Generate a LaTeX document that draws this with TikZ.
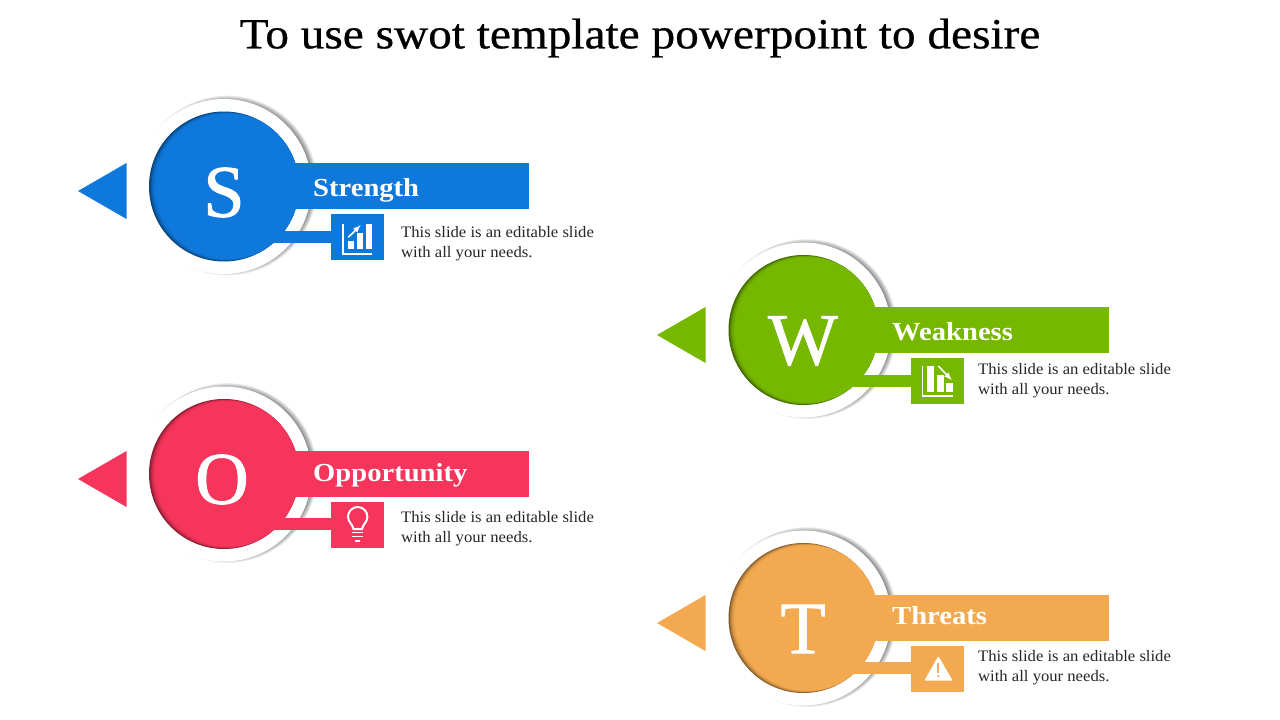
\documentclass[tikz,border=0pt]{standalone}
\usepackage{fontspec}
\setmainfont{Liberation Serif}[FakeStretch=1.1]
\newfontfamily\titlefont{Liberation Serif}[FakeStretch=1.1,FakeBold=0.6]
\newfontfamily\letterfont{Liberation Serif}[FakeBold=1.2]
\newfontfamily\blurbfont{Liberation Serif}[FakeStretch=1.04]
\definecolor{swotblue}{HTML}{0F78DB}
\definecolor{swotgreen}{HTML}{76B700}
\definecolor{swotpink}{HTML}{F5355B}
\definecolor{swotorange}{HTML}{F2A950}
\definecolor{swottext}{HTML}{262626}
\tikzset{
  ring/.style={shape=circle,fill=white,minimum size=175pt,inner sep=0pt},
  disc/.style={shape=circle,fill=#1!55!black,minimum size=150pt,inner sep=0pt,
    path picture={
      \foreach \off/\rad/\op in {.8/74.5/.35,1.6/74/.45,2.4/73.5/.55,3.2/73/.7,4/72.5/1}
        \fill[#1,opacity=\op] ([xshift=\off pt]path picture bounding box.center) circle (\rad pt);
    }},
  bar/.style={shape=rectangle,fill=#1,anchor=north west,minimum height=45.5pt,inner sep=0pt},
  iconbox/.style={shape=rectangle,fill=#1,anchor=north west,minimum width=53pt,minimum height=45.5pt,inner sep=0pt},
  link/.style={draw=#1,line width=12pt},
  letter/.style={text=white,font=\fontsize{74pt}{74pt}\letterfont,inner sep=0pt},
  label/.style={text=white,anchor=base west,inner sep=0pt,font=\fontsize{26pt}{26pt}\selectfont\bfseries},
  blurb/.style={text=swottext,anchor=north west,align=left,inner sep=0pt,font=\fontsize{16pt}{20pt}\blurbfont},
  glyph/.style={draw=white,line width=1.6pt},
}
\newcommand{\ringshade}[2]{\foreach \k in {0,...,9}{\fill[black,opacity=.055] (#1+3.5,#2-1) circle (84.5pt+\k*.6pt);}}
\newcommand{\pointer}[3]{\fill[#3] (#1,#2) -- (#1+48.5,#2-28) -- (#1+48.5,#2+28) -- cycle;}
\begin{document}
\begin{tikzpicture}[x=1pt,y=-1pt]
\useasboundingbox (0,0) rectangle (1280,720);
\fill[white] (0,0) rectangle (1280,720);
\node[text=black,font=\fontsize{43pt}{43pt}\titlefont] (title) at (640,38) {To use swot template powerpoint to desire};
% S
\pointer{78}{191}{swotblue}
\ringshade{224}{186.5}
\node[ring] (sring) at (224,186.5) {};
\node[disc=swotblue] (sdisc) at (224,186.5) {};
\node[bar=swotblue,minimum width=239pt] (sbar) at (290,163) {};
\node[iconbox=swotblue] (sbox) at (331,214) {};
\coordinate (slink) at (265,237);
\draw[link=swotblue] (slink) -- (sbox.west |- slink);
\node[letter] (sletter) at (224,192.5) {S};
\node[label] (slabel) at (313,196) {Strength};
\node[blurb] (sblurb) at (401,226) {This slide is an editable slide\\with all your needs.};
\begin{scope}[shift={(331,214)}]
\draw[glyph] (11.7,10) -- (11.7,40) -- (40.7,40);
\fill[white] (16.7,26.7) rectangle (23.3,35.3);
\fill[white] (25.7,18.7) rectangle (32.3,35.3);
\fill[white] (34.7,10) rectangle (40.7,35.3);
\draw[glyph,->,>=latex] (17.3,23.3) -- (29.7,11);
\end{scope}
% W
\pointer{657}{335}{swotgreen}
\ringshade{803.5}{330}
\node[ring] (wring) at (803.5,330) {};
\node[disc=swotgreen] (wdisc) at (803.5,330) {};
\node[bar=swotgreen,minimum width=240pt] (wbar) at (869,307) {};
\node[iconbox=swotgreen] (wbox) at (911,358) {};
\coordinate (wlink) at (844,381);
\draw[link=swotgreen] (wlink) -- (wbox.west |- wlink);
\node[letter] (wletter) at (803,341) {W};
\node[label] (wlabel) at (892,340) {Weakness};
\node[blurb] (wblurb) at (978,363) {This slide is an editable slide\\with all your needs.};
\begin{scope}[shift={(911,358)}]
\draw[glyph] (11.3,8) -- (11.3,38) -- (41.7,38);
\fill[white] (15.7,8) rectangle (23,33.7);
\fill[white] (25.7,17) rectangle (33,33.7);
\fill[white] (35,25.3) rectangle (41.7,33.7);
\draw[glyph,->,>=latex] (27.3,8) -- (40.7,22);
\end{scope}
% O
\pointer{78}{479}{swotpink}
\ringshade{224}{474}
\node[ring] (oring) at (224,474) {};
\node[disc=swotpink] (odisc) at (224,474) {};
\node[bar=swotpink,minimum width=239pt] (obar) at (290,451) {};
\node[iconbox=swotpink] (obox) at (331,502) {};
\coordinate (olink) at (265,524);
\draw[link=swotpink] (olink) -- (obox.west |- olink);
\node[letter] (oletter) at (222,479.5) {O};
\node[label] (olabel) at (313,481) {Opportunity};
\node[blurb] (oblurb) at (401,511) {This slide is an editable slide\\with all your needs.};
\begin{scope}[shift={(331,502)}]
\draw[glyph,line width=2pt] (22.5,27) .. controls (21.5,22) and (17,20) .. (17,14.7) arc (180:360:9.7) .. controls (36.4,20) and (32,22) .. (31,27) -- cycle;
\draw[glyph] (21,30.3) -- (32,30.3);
\draw[glyph] (21,34.3) -- (32,34.3);
\draw[glyph] (24,38.7) -- (29,38.7);
\end{scope}
% T
\pointer{657}{623}{swotorange}
\ringshade{803.5}{618}
\node[ring] (tring) at (803.5,618) {};
\node[disc=swotorange] (tdisc) at (803.5,618) {};
\node[bar=swotorange,minimum width=240pt] (tbar) at (869,595) {};
\node[iconbox=swotorange] (tbox) at (911,646) {};
\coordinate (tlink) at (844,668);
\draw[link=swotorange] (tlink) -- (tbox.west |- tlink);
\node[letter] (tletter) at (803,629) {T};
\node[label] (tlabel) at (892,624) {Threats};
\node[blurb] (tblurb) at (978,650) {This slide is an editable slide\\with all your needs.};
\begin{scope}[shift={(911,646)}]
\fill[white,rounded corners=1pt] (27.3,10) -- (41.7,34.7) -- (13.3,34.7) -- cycle;
\draw[swotorange,line width=1.8pt] (27.3,17.3) -- (27.3,27.3);
\fill[swotorange] (27.3,30) circle (1.2pt);
\end{scope}
\end{tikzpicture}
\end{document}
